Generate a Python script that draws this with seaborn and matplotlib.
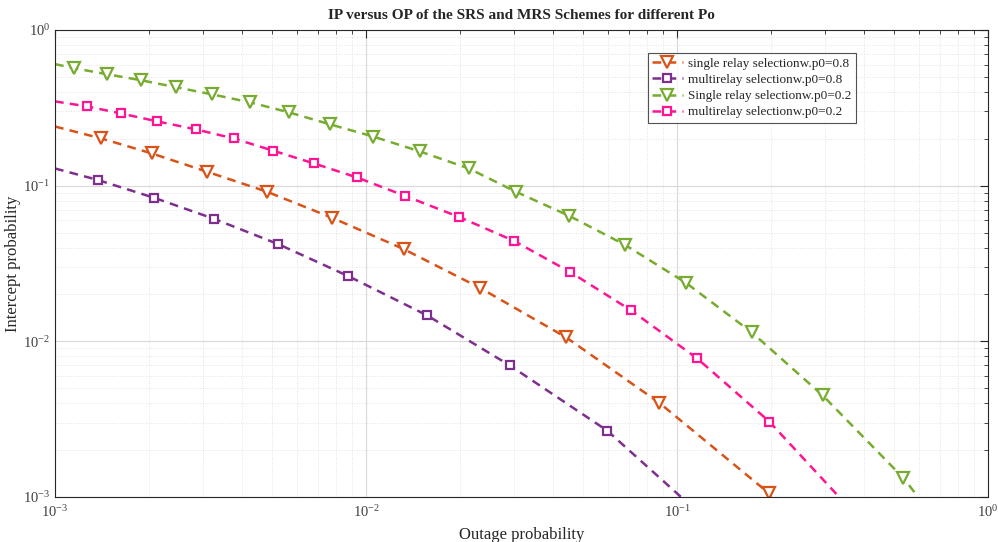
import matplotlib
matplotlib.use("Agg")
import matplotlib.pyplot as plt
import seaborn as sns
import numpy as np
from matplotlib.ticker import LogLocator, NullFormatter

# data (first and last points are where the curve meets the axes)
op_srs_08 = [1.0e-3, 1.41e-3, 2.05e-3, 3.08e-3, 4.80e-3, 7.78e-3, 1.32e-2, 2.33e-2, 4.40e-2, 8.75e-2, 0.197, 0.20]
ip_srs_08 = [0.240, 0.201, 0.161, 0.123, 0.0915, 0.0622, 0.0392, 0.0220, 0.0106, 0.00404, 0.00106, 0.00100]

op_mrs_08 = [1.0e-3, 1.37e-3, 2.08e-3, 3.25e-3, 5.21e-3, 8.75e-3, 1.57e-2, 2.90e-2, 5.96e-2, 0.103]
ip_mrs_08 = [0.129, 0.109, 0.0837, 0.0612, 0.0422, 0.0263, 0.0147, 0.0070, 0.00267, 0.00100]

op_srs_02 = [1.0e-3, 1.15e-3, 1.47e-3, 1.89e-3, 2.45e-3, 3.20e-3, 4.24e-3, 5.65e-3, 7.65e-3, 1.053e-2,
             1.49e-2, 2.14e-2, 3.03e-2, 4.50e-2, 6.81e-2, 0.107, 0.174, 0.294, 0.533, 0.596]
ip_srs_02 = [0.604, 0.569, 0.520, 0.476, 0.429, 0.386, 0.343, 0.296, 0.248, 0.207,
             0.166, 0.129, 0.0915, 0.064, 0.0416, 0.0237, 0.0114, 0.00449, 0.00133, 0.00100]

op_mrs_02 = [1.0e-3, 1.27e-3, 1.63e-3, 2.13e-3, 2.84e-3, 3.76e-3, 5.02e-3, 6.80e-3, 9.35e-3, 1.33e-2,
             1.99e-2, 2.99e-2, 4.53e-2, 7.12e-2, 0.116, 0.198, 0.332]
ip_mrs_02 = [0.348, 0.323, 0.291, 0.259, 0.230, 0.201, 0.168, 0.139, 0.113, 0.0862,
             0.063, 0.0442, 0.0279, 0.0158, 0.00777, 0.00305, 0.00100]

series = [
    (op_srs_08, ip_srs_08, "single relay selectionw.p0=0.8", "#D95319", "v"),
    (op_mrs_08, ip_mrs_08, "multirelay selectionw.p0=0.8", "#7E2F8E", "s"),
    (op_srs_02, ip_srs_02, "Single relay selectionw.p0=0.2", "#77AC30", "v"),
    (op_mrs_02, ip_mrs_02, "multirelay selectionw.p0=0.2", "#FF1493", "s"),
]

sns.set_style("white")
plt.rcParams['font.family'] = ['Liberation Serif', 'DejaVu Serif']
plt.rcParams['mathtext.fontset'] = 'stix'

fig = plt.figure(figsize=(9.98, 5.42), dpi=100)
ax = fig.add_axes([0.0551, 0.083, 0.935, 0.8616])

for x, y, lab, col, mk in series:
    ms = 8 if mk == "v" else 6
    sns.lineplot(x=x, y=y, ax=ax, color=col, linestyle=(0, (3.5, 2.5)), linewidth=1.8,
                 marker=mk, markersize=ms, markeredgewidth=1.6, markerfacecolor="white",
                 markeredgecolor=col, markevery=slice(1, -1), sort=False, estimator=None,
                 label=lab)

ax.set_xscale("log")
ax.set_yscale("log")
ax.set_xlim(1e-3, 1)
ax.set_ylim(1e-3, 1)

ax.xaxis.set_minor_locator(LogLocator(base=10, subs=np.arange(2, 10), numticks=20))
ax.yaxis.set_minor_locator(LogLocator(base=10, subs=np.arange(2, 10), numticks=20))
ax.xaxis.set_minor_formatter(NullFormatter())
ax.yaxis.set_minor_formatter(NullFormatter())

ax.grid(True, which="major", color="#d9d9d9", linewidth=0.8, linestyle="-")
ax.grid(True, which="minor", color="#e3e3e3", linewidth=0.7, linestyle=":")
ax.tick_params(which="both", direction="in", top=True, right=True, labelsize=10.5,
               colors="#262626", labelcolor="#404040")
ax.tick_params(which="major", length=6)
ax.tick_params(which="minor", length=3)
ax.tick_params(axis="x", pad=5)
for s in ax.spines.values():
    s.set_color("#262626")
    s.set_linewidth(0.8)

ax.set_title("IP versus OP of the SRS and MRS Schemes for different Po", fontsize=11,
             fontweight="bold", pad=8)
ax.set_xlabel("Outage probability", fontsize=12, labelpad=5)
ax.set_ylabel("Intercept probability", fontsize=12, labelpad=1)

leg = ax.legend(loc="upper left", bbox_to_anchor=(0.628, 0.965), fontsize=9.5, frameon=True,
                fancybox=False, edgecolor="#262626", handlelength=2.3, borderpad=0.35,
                labelspacing=0.3, handletextpad=0.4)
leg.get_frame().set_linewidth(0.8)

plt.savefig("out.png", dpi=100)
plt.close()
